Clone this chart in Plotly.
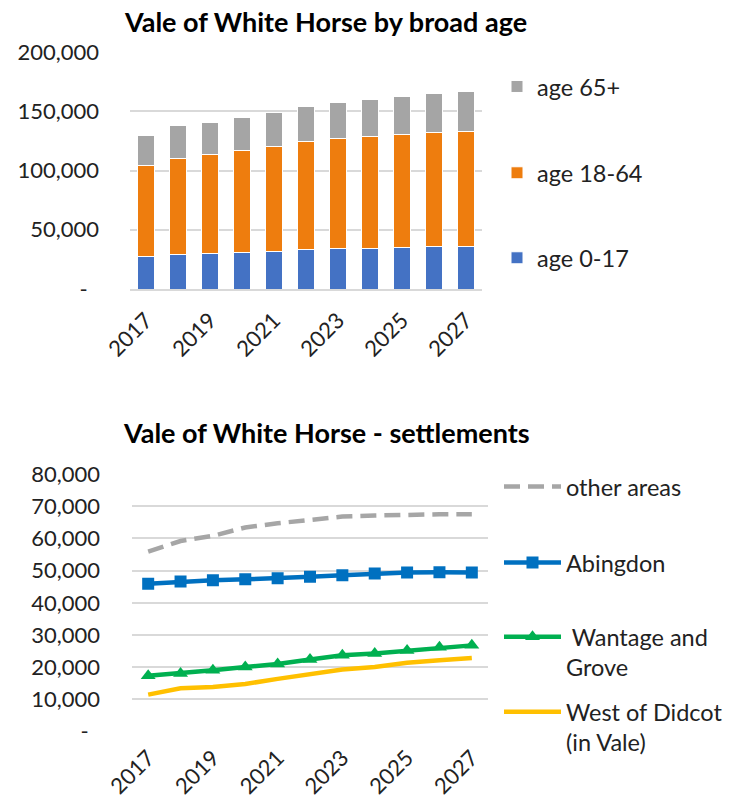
import plotly.graph_objects as go

W, H = 734, 801

years = [2017, 2018, 2019, 2020, 2021, 2022, 2023, 2024, 2025, 2026, 2027]
tick_years = [2017, 2019, 2021, 2023, 2025, 2027]

age_0_17 = [27800, 29200, 30100, 30900, 31500, 33200, 34000, 34600, 35400, 35600, 36200]
age_18_64 = [76700, 81200, 83400, 85700, 89000, 91000, 92700, 94400, 95300, 96500, 96700]
age_65_plus = [25300, 27300, 27300, 28100, 28700, 29500, 30900, 30900, 32000, 32800, 34000]

other_areas = [55900, 59200, 60800, 63400, 64700, 65900, 66800, 67100, 67400, 67500, 67500]
abingdon = [45900, 46600, 47000, 47300, 47600, 48100, 48600, 49100, 49400, 49500, 49400]
wantage_grove = [17400, 18100, 19100, 20100, 21000, 22400, 23700, 24300, 25200, 26200, 26800]
west_didcot = [11500, 13500, 13900, 14800, 16400, 17900, 19300, 20100, 21400, 22200, 22900]

top_ticks = [0, 50000, 100000, 150000, 200000]
top_ticktext = ["-\u00a0\u00a0", "50,000", "100,000", "150,000", "200,000"]
bot_ticks = [0, 10000, 20000, 30000, 40000, 50000, 60000, 70000, 80000]
bot_ticktext = ["-\u00a0\u00a0", "10,000", "20,000", "30,000", "40,000",
                "50,000", "60,000", "70,000", "80,000"]

FONT = "Lato"
GRID = "#D9D9D9"

def px_x(p):
    return p / W

def px_y(p):
    return 1 - p / H

fig = go.Figure()

fig.add_trace(go.Bar(x=years, y=age_0_17, name="age 0-17", marker_color="#4472C4",
                     marker_line=dict(color="white", width=1), xaxis="x", yaxis="y",
                     legend="legend3"))
fig.add_trace(go.Bar(x=years, y=age_18_64, name="age 18-64", marker_color="#EE7D0E",
                     marker_line=dict(color="white", width=1), xaxis="x", yaxis="y",
                     legend="legend2"))
fig.add_trace(go.Bar(x=years, y=age_65_plus, name="age 65+", marker_color="#A5A5A5",
                     marker_line=dict(color="white", width=1), xaxis="x", yaxis="y",
                     legend="legend"))

fig.add_trace(go.Scatter(x=years, y=other_areas, name="other areas", mode="lines",
                         line=dict(color="#A6A6A6", width=4.5, dash="16px,8px"),
                         xaxis="x2", yaxis="y2", legend="legend4"))
fig.add_trace(go.Scatter(x=years, y=abingdon, name="Abingdon", mode="lines+markers",
                         line=dict(color="#0070C0", width=4.5),
                         marker=dict(symbol="square", size=12, color="#0070C0"),
                         xaxis="x2", yaxis="y2", legend="legend5"))
fig.add_trace(go.Scatter(x=years, y=wantage_grove, name=" Wantage and<br>Grove",
                         mode="lines+markers",
                         line=dict(color="#00B050", width=4.5),
                         marker=dict(symbol="triangle-up", size=13, color="#00B050"),
                         xaxis="x2", yaxis="y2", legend="legend6"))
fig.add_trace(go.Scatter(x=years, y=west_didcot, name="West of Didcot<br>(in Vale)",
                         mode="lines",
                         line=dict(color="#FFC000", width=4.5),
                         xaxis="x2", yaxis="y2", legend="legend7"))

axis_font = dict(family=FONT, size=22, color="#222222")

def leg(xp, yp, iw, yanchor="middle", valign="middle"):
    return dict(x=px_x(xp), y=px_y(yp), xanchor="left", yanchor=yanchor,
                xref="paper", yref="paper", font=dict(family=FONT, size=23.5, color="#222222"),
                bgcolor="rgba(0,0,0,0)", valign=valign, itemwidth=iw)

fig.update_layout(
    width=W, height=H,
    margin=dict(l=0, r=0, t=0, b=0, autoexpand=False),
    paper_bgcolor="white", plot_bgcolor="white",
    barmode="stack", bargap=0.45,
    showlegend=True,
    xaxis=dict(domain=[px_x(130), px_x(482)], anchor="y", range=[2016.5, 2027.5],
               tickvals=tick_years, ticktext=[str(t) for t in tick_years],
               tickangle=-45, showgrid=False, showline=True, linecolor=GRID, linewidth=1.5,
               ticks="", tickfont=axis_font, ticklabelstandoff=8, zeroline=False,
               automargin=False),
    yaxis=dict(domain=[px_y(289), px_y(52)], anchor="x", range=[0, 200000],
               tickvals=top_ticks, ticktext=top_ticktext, showgrid=True, gridcolor=GRID,
               gridwidth=1.5, zeroline=False, ticks="", tickfont=axis_font,
               ticklabelstandoff=30, automargin=False),
    xaxis2=dict(domain=[px_x(132), px_x(488)], anchor="y2", range=[2016.5, 2027.5],
                tickvals=tick_years, ticktext=[str(t) for t in tick_years],
                tickangle=-45, showgrid=False, showline=False,
                ticks="", tickfont=axis_font, ticklabelstandoff=8, zeroline=False,
                automargin=False),
    yaxis2=dict(domain=[px_y(731.7), px_y(474)], anchor="x2", range=[0, 80000],
                tickvals=bot_ticks, ticktext=bot_ticktext, showgrid=True, gridcolor=GRID,
                gridwidth=1.5, zeroline=False, ticks="", tickfont=axis_font,
                ticklabelstandoff=31, automargin=False),
    legend=leg(497, 86.7, 30),
    legend2=leg(497, 173, 30),
    legend3=leg(497, 258, 30),
    legend4=leg(499, 486.7, 57),
    legend5=leg(499, 562.7, 57),
    legend6=leg(499, 615, 57, yanchor="top", valign="top"),
    legend7=leg(499, 690, 57, yanchor="top", valign="top"),
    annotations=[
        dict(text="<b>Vale of White Horse by broad age</b>", x=px_x(325), y=px_y(22),
             xref="paper", yref="paper", showarrow=False, xanchor="center", yanchor="middle",
             font=dict(family=FONT, size=27, color="black")),
        dict(text="<b>Vale of White Horse - settlements</b>", x=px_x(326), y=px_y(432),
             xref="paper", yref="paper", showarrow=False, xanchor="center", yanchor="middle",
             font=dict(family=FONT, size=27, color="black")),
    ],
)

fig.write_html("out.html", config={"displayModeBar": False},
               post_script="document.body.style.margin='0';document.body.style.overflow='hidden';")
